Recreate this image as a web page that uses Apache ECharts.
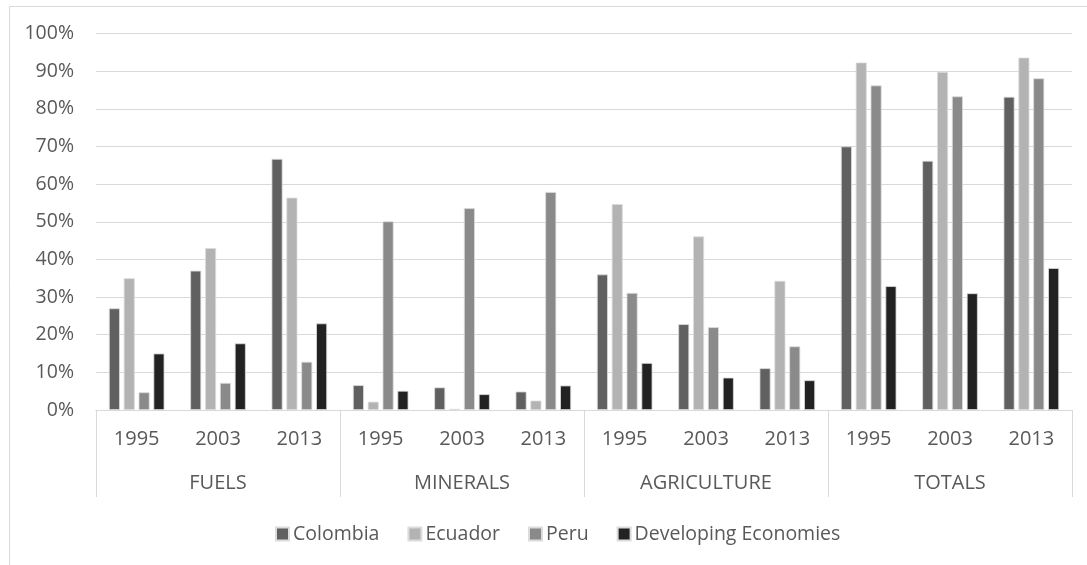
<!DOCTYPE html>
<html>
<head>
<meta charset="utf-8">
<script src="https://cdn.jsdelivr.net/npm/echarts@6/dist/echarts.min.js"></script>
<style>
  html, body { margin: 0; padding: 0; background: #ffffff; }
  #chart { width: 1087px; height: 565px; }
</style>
</head>
<body>
<div id="chart"></div>
<script>
// Share of exports by product group (%), per year
const years = ['1995', '2003', '2013'];
const groups = ['FUELS', 'MINERALS', 'AGRICULTURE', 'TOTALS'];
const seriesNames = ['Colombia', 'Ecuador', 'Peru', 'Developing Economies'];
const yTicks = [0, 10, 20, 30, 40, 50, 60, 70, 80, 90, 100];

// Values in order: FUELS 1995/2003/2013, MINERALS ..., AGRICULTURE ..., TOTALS ...
const colombia = [27.0, 37.0, 66.7, 6.6, 6.0, 4.9, 36.0, 22.8, 11.1, 70.0, 66.2, 83.2];
const ecuador  = [35.0, 43.0, 56.4, 2.2, 0.3, 2.5, 54.7, 46.1, 34.3, 92.3, 89.8, 93.6];
const peru     = [4.7, 7.2, 12.8, 50.1, 53.6, 57.9, 31.1, 22.0, 16.9, 86.2, 83.3, 88.1];
const devEcon  = [15.0, 17.7, 23.0, 5.1, 4.2, 6.5, 12.5, 8.6, 7.9, 32.9, 31.0, 37.7];

const colors = ['#606060', '#b3b3b3', '#8a8a8a', '#222222'];
const seriesData = [colombia, ecuador, peru, devEcon];

// One category per (group, year) pair; the year is what is shown on the inner row
const categories = [];
groups.forEach(g => years.forEach(y => categories.push(g + '|' + y)));

const textColor = '#595959';
const lineColor = '#d9d9d9';
const fontFamily = '"Open Sans", "Liberation Sans", sans-serif';

const chart = echarts.init(document.getElementById('chart'), null, { renderer: 'canvas' });

chart.setOption({
  animation: false,
  backgroundColor: '#ffffff',
  color: colors,
  textStyle: { fontFamily: fontFamily, color: textColor },
  graphic: [{
    type: 'rect',
    shape: { x: 9.5, y: 6.5, width: 1100, height: 600 },
    style: { fill: 'none', stroke: lineColor, lineWidth: 1 },
    silent: true,
    z: -1
  }],
  grid: { left: 96, right: 15, top: 33.5, bottom: 155, containLabel: false },
  legend: {
    data: seriesNames,
    top: 518,
    left: 270,
    icon: 'rect',
    itemWidth: 13,
    itemHeight: 13,
    itemGap: 28,
    textStyle: { fontSize: 19.5, lineHeight: 22, color: textColor, fontFamily: fontFamily, padding: [0, 0, 0, -1] }
  },
  xAxis: [
    {
      type: 'category',
      data: categories,
      position: 'bottom',
      axisLine: { show: true, lineStyle: { color: lineColor, width: 1 } },
      axisTick: { show: false },
      axisLabel: {
        interval: 0,
        margin: 19,
        fontSize: 20,
        lineHeight: 21,
        color: textColor,
        formatter: v => v.split('|')[1]
      },
      splitLine: { show: false }
    },
    {
      type: 'category',
      data: groups,
      position: 'bottom',
      offset: 0,
      axisLine: { show: true, lineStyle: { color: lineColor, width: 1 } },
      axisTick: { show: true, length: 87, lineStyle: { color: lineColor, width: 1 } },
      axisLabel: {
        interval: 0,
        margin: 63,
        fontSize: 20,
        lineHeight: 21,
        color: textColor
      },
      splitLine: { show: false }
    }
  ],
  yAxis: {
    type: 'value',
    min: yTicks[0],
    max: yTicks[yTicks.length - 1],
    interval: 10,
    axisLine: { show: false },
    axisTick: { show: false },
    axisLabel: {
      margin: 22,
      fontSize: 19.5,
      color: textColor,
      formatter: '{value}%'
    },
    splitLine: { show: true, lineStyle: { color: lineColor, width: 1 } }
  },
  series: seriesNames.map((name, i) => ({
    name: name,
    type: 'bar',
    xAxisIndex: 0,
    data: seriesData[i],
    barWidth: 11,
    barGap: '35%',
    itemStyle: { color: colors[i], borderColor: '#dcdcdc', borderWidth: 0.8 }
  }))
});
</script>
</body>
</html>
